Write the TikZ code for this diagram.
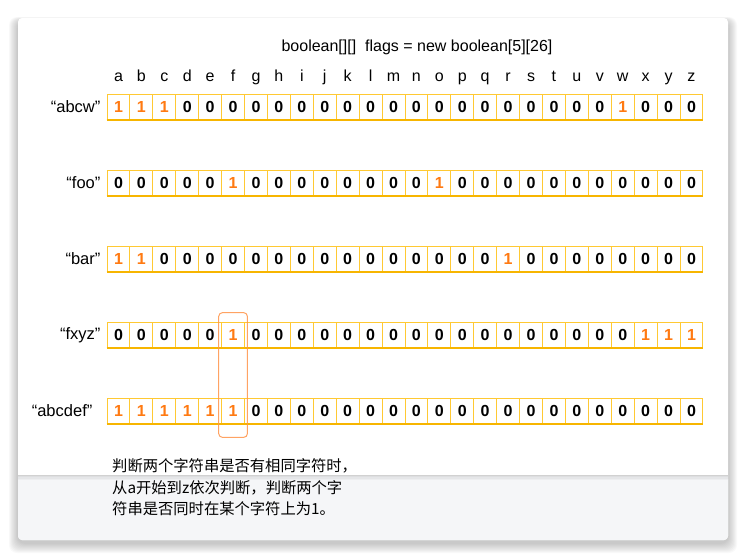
\documentclass[tikz,border=0pt]{standalone}
\usepackage{fontspec}
\setmainfont{Liberation Sans}
\newfontfamily\cjk{Noto Sans CJK SC}
\definecolor{cellc}{HTML}{FFC933}
\definecolor{bottomc}{HTML}{F7B500}
\definecolor{onec}{HTML}{FF7A12}
\definecolor{hlc}{HTML}{FF9448}
\definecolor{footc}{HTML}{F5F6F8}
\tikzset{
  cell/.style={draw=cellc, line width=0.9pt, minimum width=22.92pt, minimum height=26pt, inner sep=0pt, font=\fontsize{16}{16}\selectfont\bfseries, fill=white},
  one/.style={text=onec},
  zero/.style={text=black},
  lab/.style={font=\fontsize{16.5}{16}\selectfont, anchor=east, inner sep=0pt},
  letter/.style={font=\fontsize{16}{16}\selectfont, anchor=base, inner sep=0pt}
}
\begin{document}
\begin{tikzpicture}[x=1pt,y=-1pt]
\useasboundingbox (0,0) rectangle (746,558);
% shadow
\foreach \k in {1,...,10}
  \fill[black,opacity=0.024,rounded corners=8] (18-\k*0.9,18-\k*0.4+3) rectangle (728+\k*0.9,540+\k*1.0+3);
% card
\fill[white, rounded corners=4] (18,18) rectangle (728,540);
\fill[footc, rounded corners=4] (18,475) rectangle (728,540);
\fill[footc] (18,475) rectangle (728,490);
\foreach \k in {0,...,4}
  \fill[black,opacity=0.03] (18,475) rectangle (728,475+\k*1.2);
\draw[black!18, line width=0.6pt] (18,475) -- (728,475);
% title
\node[font=\fontsize{16}{16}\selectfont, inner sep=0pt] (title) at (417,47) {boolean[][]\ \ flags = new boolean[5][26]};
% letters
\foreach \l [count=\i from 0] in {a,b,c,d,e,f,g,h,i,j,k,l,m,n,o,p,q,r,s,t,u,v,w,x,y,z}
  \node[letter] (L\i) at ({107+(\i+0.5)*22.92},81.5) {\l};
% rows
\foreach \r/\ty/\lab/\gap/\bits in {
  1/94/{“abcw”}/6/{1,1,1,0,0,0,0,0,0,0,0,0,0,0,0,0,0,0,0,0,0,0,1,0,0,0},
  2/170/{“foo”}/6/{0,0,0,0,0,1,0,0,0,0,0,0,0,0,1,0,0,0,0,0,0,0,0,0,0,0},
  3/246/{“bar”}/6/{1,1,0,0,0,0,0,0,0,0,0,0,0,0,0,0,0,1,0,0,0,0,0,0,0,0},
  4/322/{“fxyz”}/6/{0,0,0,0,0,1,0,0,0,0,0,0,0,0,0,0,0,0,0,0,0,0,0,1,1,1},
  5/398/{“abcdef”}/14/{1,1,1,1,1,1,0,0,0,0,0,0,0,0,0,0,0,0,0,0,0,0,0,0,0,0}}{
  \foreach \b [count=\i from 0] in \bits {
    \ifnum\b=1 \def\cc{one}\else\def\cc{zero}\fi
    \node[cell,\cc] (r\r-\i) at ({107+(\i+0.5)*22.92},\ty+13) {\b};
  }
  \draw[bottomc, line width=2pt] (r\r-0.south west) -- (r\r-25.south east);
  \node[lab] (n\r) at ([xshift=-\gap pt]r\r-0.west) {\lab};
}
% highlight column f
\draw[hlc, line width=1pt, rounded corners=4, opacity=0.85]
  ([xshift=-2.5pt,yshift=9pt]r4-5.north west) rectangle ([xshift=2.5pt,yshift=-13pt]r5-5.south east);
% note
\node[anchor=north west, align=left, inner sep=0pt, font=\cjk\fontsize{15.3}{21.5}\selectfont] (note) at (112,458.5)
  {判断两个字符串是否有相同字符时，\\从a开始到z依次判断，判断两个字\\符串是否同时在某个字符上为1。};
\end{tikzpicture}
\end{document}
